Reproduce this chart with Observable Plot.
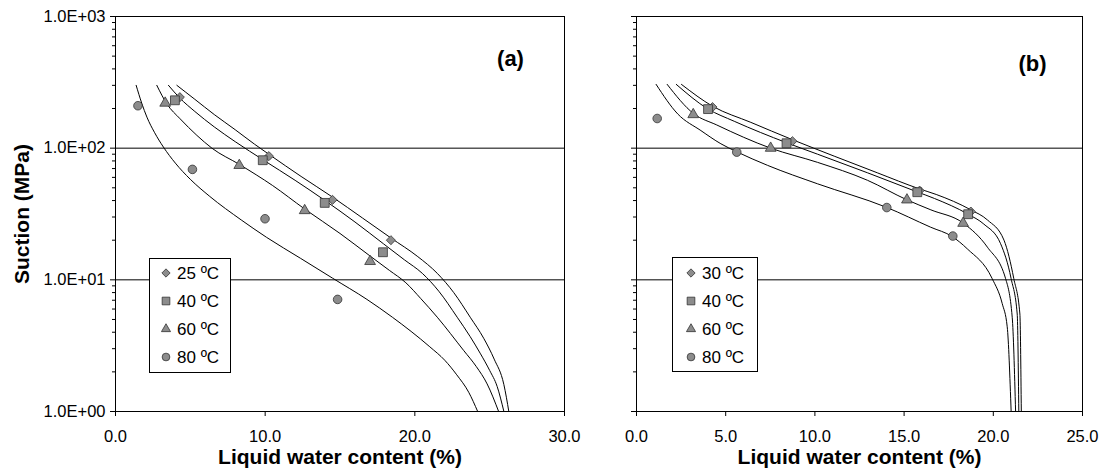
<!DOCTYPE html>
<html><head><meta charset="utf-8">
<script src="https://cdn.jsdelivr.net/npm/d3@7"></script>
<script src="https://cdn.jsdelivr.net/npm/@observablehq/plot@0.6"></script>
<style>
body{margin:0;background:#fff;font-family:"Liberation Sans",Arial,sans-serif;}
#wrap{position:relative;width:1101px;height:475px;overflow:hidden;background:#fff}
.panel{position:absolute;top:0}
.legend{position:absolute;top:0;left:0;pointer-events:none}
</style></head>
<body><div id="wrap"></div>
<script>
// ---------- data ----------
const yTicks = [1, 10, 100, 1000];
const yTickLabels = ["1.0E+00", "1.0E+01", "1.0E+02", "1.0E+03"];
const yGrid = [10, 100];
const xTicksA = [0, 10, 20, 30];
const xTickLabelsA = ["0.0", "10.0", "20.0", "30.0"];
const xTicksB = [0, 5, 10, 15, 20, 25];
const xTickLabelsB = ["0.0", "5.0", "10.0", "15.0", "20.0", "25.0"];
const yTitle = "Suction (MPa)";
const xTitle = "Liquid water content (%)";
const tempsA = ["25 ºC", "40 ºC", "60 ºC", "80 ºC"];
const tempsB = ["30 ºC", "40 ºC", "60 ºC", "80 ºC"];
const symbols = ["diamond2", "square", "triangle", "circle"];

// panel (a) measured points
const a25x = [4.30, 10.25, 14.5, 18.4],  a25y = [244, 87, 40.5, 20.0];
const a40x = [3.97, 9.84, 13.98, 17.87], a40y = [231, 81, 38.4, 16.2];
const a60x = [3.32, 8.27, 12.64, 17.01], a60y = [220, 74, 33.6, 13.8];
const a80x = [1.5, 5.14, 9.99, 14.84],   a80y = [210, 69, 29.1, 7.1];
// panel (a) model curves
const c25ax = [4.1, 5.3, 6.6, 8.0, 9.3, 10.3, 12.4, 14.5, 16.5, 18.4, 20.2, 21.5, 22.6, 23.7, 24.6, 25.3, 25.95, 26.28];
const c25ay = [300, 235, 180, 138, 107, 89, 61, 42.5, 29.5, 20.8, 15, 11.2, 8, 5.2, 3.6, 2.5, 1.6, 1];
const c40ax = [3.54, 4.3, 5.3, 6.6, 8.0, 9.9, 12.0, 14.0, 16.0, 17.9, 19.3, 20.5, 21.6, 22.83, 23.7, 24.39, 25.0, 25.5, 25.95];
const c40ay = [300, 240, 190, 145, 112, 81, 57, 40, 27.5, 18.8, 14.2, 11.2, 8.2, 5.2, 3.7, 2.74, 2.05, 1.55, 1];
const c60ax = [2.76, 3.43, 4.32, 5.44, 6.44, 8.3, 10.5, 12.64, 15.0, 17.0, 18.3, 19.4, 20.4, 21.5, 23.27, 24.1, 24.83, 25.6];
const c60ay = [300, 217, 167, 125, 100, 75, 52, 34.5, 22.5, 15.2, 11.8, 9.5, 7.2, 5.2, 2.9, 2.2, 1.62, 1];
const c80ax = [1.38, 1.75, 2.1, 2.6, 3.2, 4.0, 5.0, 6.3, 8.4, 10.1, 12.35, 14.5, 16.8, 18.5, 21.0, 22.0, 22.8, 23.6, 24.2];
const c80ay = [300, 220, 172, 132, 102, 77, 58, 43, 28.5, 21, 14.6, 10.3, 7.1, 5.2, 3.1, 2.45, 1.9, 1.4, 1.0];

// panel (b) measured points
const b30x = [4.26, 8.74, 15.87, 18.74], b30y = [205, 113, 47.6, 33.0];
const b40x = [4.01, 8.41, 15.74, 18.59], b40y = [198, 109, 46.3, 31.5];
const b60x = [3.18, 7.52, 15.16, 18.31], b60y = [180, 100, 40.5, 26.9];
const b80x = [1.16, 5.62, 14.03, 17.73], b80y = [168, 93.3, 35.4, 21.5];
// panel (b) model curves
const c30bx = [2.52, 4.27, 6.41, 8.74, 11.08, 13.5, 15.87, 16.8, 18.74, 19.67, 20.6, 21.15, 21.49, 21.57];
const c30by = [305, 208, 157, 116, 87, 65, 49, 44.5, 34, 28.5, 20, 10.2, 5.5, 1];
const c40bx = [2.23, 3.99, 5.48, 8.41, 10.15, 12.95, 15.74, 16.7, 18.59, 19.47, 20.41, 21.0, 21.34, 21.43];
const c40by = [305, 199, 160, 110, 90, 65, 46.5, 41.5, 31.5, 26.5, 18.8, 10.2, 5.5, 1];
const c60bx = [1.72, 3.2, 4.5, 7.52, 10.15, 12.95, 15.16, 16.5, 18.31, 19.67, 20.69, 21.06, 21.25];
const c60by = [305, 183, 150, 100, 78, 57, 40.5, 34, 27, 17.7, 10.2, 5.2, 1];
const c80bx = [1.1, 2.31, 3.61, 4.73, 5.61, 7.35, 10.15, 14.0, 16.49, 17.7, 18.54, 19.94, 20.5, 20.78, 21.0];
const c80by = [305, 182, 136, 108, 94, 74, 53.6, 35.6, 25.1, 21.3, 17.2, 10.2, 6.6, 4.4, 1];

// ---------- helpers ----------
const zip = (xs, ys, s) => xs.map((x, i) => ({x, y: ys[i], s}));
const minorTicks = [];
for (const p of [1, 10, 100]) for (let k = 2; k <= 9; k++) minorTicks.push(k * p);

const FONT = "'Liberation Sans', Arial, sans-serif";
const FILL = "#8c8c8c", STROKE = "#333";
const dotR = {diamond2: 4.1, square: 5.0, triangle: 4.0, circle: 4.3};

function panel(o) {
  const marks = [
    Plot.ruleY(yGrid, {stroke: "#000", strokeWidth: 1}),
    Plot.frame({stroke: "#000"}),
    Plot.axisY(minorTicks, {tickSize: 3, tickFormat: () => "", label: null}),
    Plot.axisY(yTicks, {tickSize: 5, tickPadding: 5, label: null,
      tickFormat: o.yLabels ? (d => yTickLabels[yTicks.indexOf(d)]) : (() => "")}),
    Plot.axisX(o.xTicks, {tickSize: 5, tickPadding: 14, label: null,
      tickFormat: d => o.xLabels[o.xTicks.indexOf(d)]}),
  ];
  o.curves.forEach(c => marks.push(Plot.line(c, {x: "x", y: "y", stroke: "#000", strokeWidth: 1, curve: "monotone-x"})));
  o.points.forEach((p, i) => marks.push(Plot.dot(p, {x: "x", y: "y", symbol: symbols[i], r: dotR[symbols[i]],
    fill: FILL, stroke: STROKE, strokeWidth: 0.8})));
  marks.push(Plot.text([xTitle], {frameAnchor: "bottom", dy: 46, textAnchor: "middle", lineAnchor: "middle",
    fontWeight: "bold", fontSize: 21}));
  marks.push(Plot.text([o.tag], {frameAnchor: "top-right", dx: o.tagDx, dy: o.tagDy, textAnchor: "middle",
    lineAnchor: "middle", fontWeight: "bold", fontSize: 22}));
  if (o.yLabels) marks.push(Plot.text([yTitle], {frameAnchor: "left", dx: -93, rotate: -90, textAnchor: "middle",
    lineAnchor: "middle", fontWeight: "bold", fontSize: 21}));
  return Plot.plot({
    width: o.width, height: 475, marginTop: 16, marginBottom: 64,
    marginLeft: o.marginLeft, marginRight: o.marginRight,
    style: {fontFamily: FONT, fontSize: "16.5px", color: "#000", background: "transparent", overflow: "visible"},
    x: {domain: o.xDomain},
    y: {type: "log", domain: [1, 1000]},
    marks
  });
}

const wrap = document.getElementById("wrap");
function place(svg, left) {
  const d = document.createElement("div");
  d.className = "panel"; d.style.left = left + "px";
  d.appendChild(svg); wrap.appendChild(d);
}

place(panel({
  width: 580, marginLeft: 115, marginRight: 16, xDomain: [0, 30], xTicks: xTicksA, xLabels: xTickLabelsA,
  yLabels: true, tag: "(a)", tagDx: -54, tagDy: 42,
  curves: [zip(c25ax, c25ay), zip(c40ax, c40ay), zip(c60ax, c60ay), zip(c80ax, c80ay)],
  points: [zip(a25x, a25y), zip(a40x, a40y), zip(a60x, a60y), zip(a80x, a80y)]
}), 0);

place(panel({
  width: 521, marginLeft: 56, marginRight: 19, xDomain: [0, 25], xTicks: xTicksB, xLabels: xTickLabelsB,
  yLabels: false, tag: "(b)", tagDx: -50, tagDy: 47,
  curves: [zip(c30bx, c30by), zip(c40bx, c40by), zip(c60bx, c60by), zip(c80bx, c80by)],
  points: [zip(b30x, b30y), zip(b40x, b40y), zip(b60x, b60y), zip(b80x, b80y)]
}), 580);

// ---------- legends ----------
const legSvg = d3.select(wrap).append("svg").attr("class", "legend").attr("width", 1101).attr("height", 475);
const legSizes = {diamond2: 44, square: 59, triangle: 36, circle: 47};
const symMap = {diamond2: d3.symbolDiamond2, square: d3.symbolSquare, triangle: d3.symbolTriangle, circle: d3.symbolCircle};
function legend(labels, bx, by, bw, bh, mx, tx, rows) {
  const g = legSvg.append("g");
  g.append("rect").attr("x", bx + 0.5).attr("y", by + 0.5).attr("width", bw).attr("height", bh)
    .attr("fill", "#fff").attr("stroke", "#000");
  labels.forEach((lab, i) => {
    g.append("path").attr("d", d3.symbol(symMap[symbols[i]], legSizes[symbols[i]])())
      .attr("transform", `translate(${mx},${rows[i]})`).attr("fill", FILL).attr("stroke", STROKE).attr("stroke-width", 0.8);
    g.append("text").attr("x", tx).attr("y", rows[i]).attr("dy", "0.35em").attr("font-size", 17)
      .attr("font-family", FONT).attr("fill", "#000").text(lab);
  });
}
legend(tempsA, 149, 258, 81, 114, 166, 177, [273, 301, 329, 357]);
legend(tempsB, 672, 257, 85, 114, 691, 702, [273, 301, 329, 357]);
</script>
</body></html>
